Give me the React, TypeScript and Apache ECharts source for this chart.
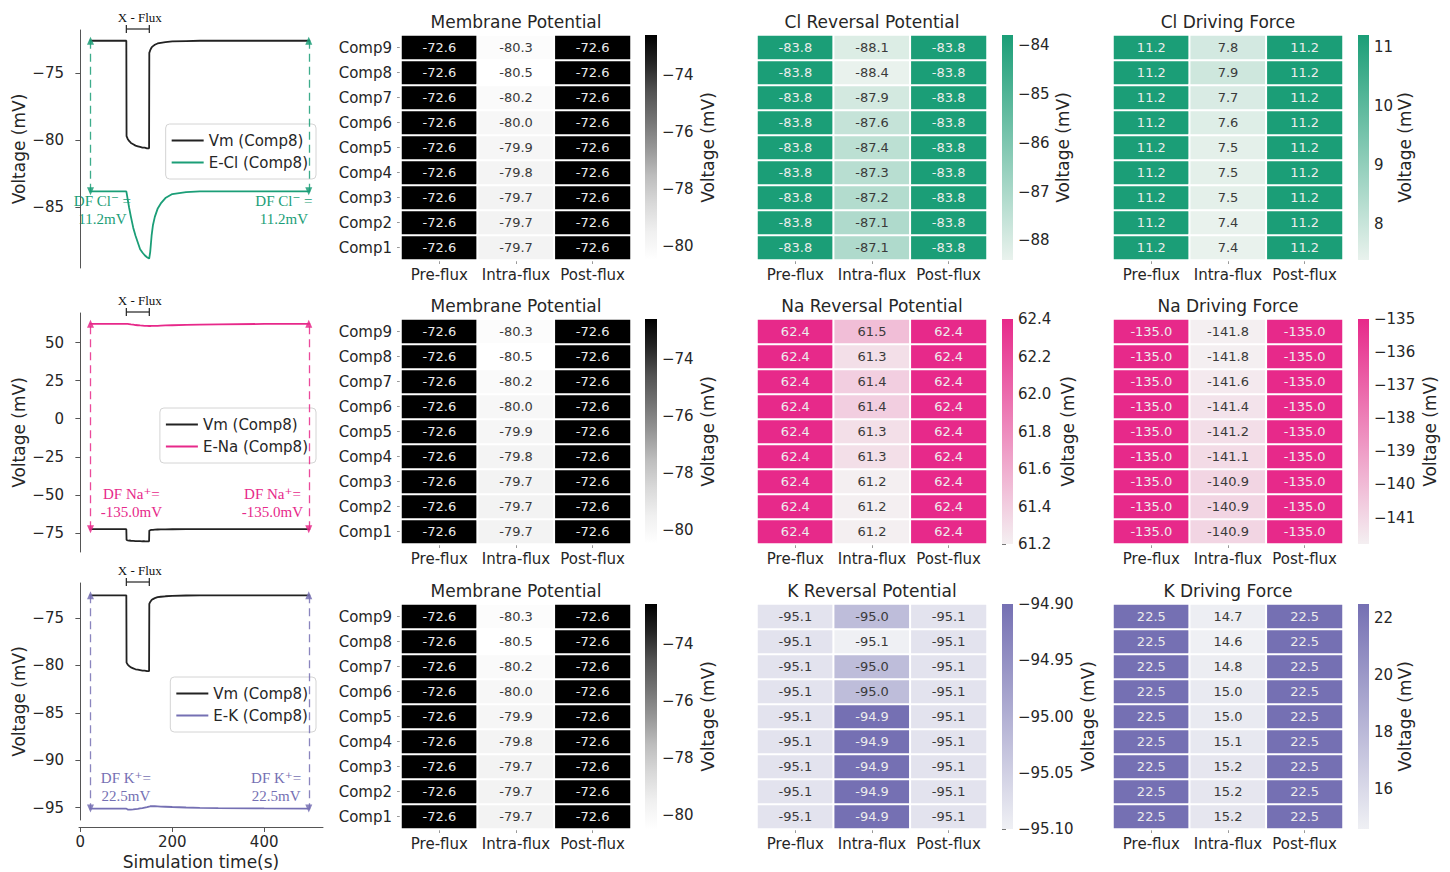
import React, { useEffect, useRef } from 'react';
import * as echarts from 'echarts';

// ---------- heatmap categories ----------
const COMPARTMENTS = ['Comp1', 'Comp2', 'Comp3', 'Comp4', 'Comp5', 'Comp6', 'Comp7', 'Comp8', 'Comp9'];
const PHASES = ['Pre-flux', 'Intra-flux', 'Post-flux'];

// ---------- per-compartment values (mV), ordered Comp1..Comp9 ----------
const VM_PRE = [-72.6, -72.6, -72.6, -72.6, -72.6, -72.6, -72.6, -72.6, -72.6];
const VM_INTRA = [-79.7, -79.7, -79.7, -79.8, -79.9, -80.0, -80.2, -80.5, -80.3];
const VM_POST = [-72.6, -72.6, -72.6, -72.6, -72.6, -72.6, -72.6, -72.6, -72.6];

const ECL_PRE = [-83.8, -83.8, -83.8, -83.8, -83.8, -83.8, -83.8, -83.8, -83.8];
const ECL_INTRA = [-87.1, -87.1, -87.2, -87.3, -87.4, -87.6, -87.9, -88.4, -88.1];
const ECL_POST = [-83.8, -83.8, -83.8, -83.8, -83.8, -83.8, -83.8, -83.8, -83.8];

const DFCL_PRE = [11.2, 11.2, 11.2, 11.2, 11.2, 11.2, 11.2, 11.2, 11.2];
const DFCL_INTRA = [7.4, 7.4, 7.5, 7.5, 7.5, 7.6, 7.7, 7.9, 7.8];
const DFCL_POST = [11.2, 11.2, 11.2, 11.2, 11.2, 11.2, 11.2, 11.2, 11.2];

const ENA_PRE = [62.4, 62.4, 62.4, 62.4, 62.4, 62.4, 62.4, 62.4, 62.4];
const ENA_INTRA = [61.2, 61.2, 61.2, 61.3, 61.3, 61.4, 61.4, 61.3, 61.5];
const ENA_POST = [62.4, 62.4, 62.4, 62.4, 62.4, 62.4, 62.4, 62.4, 62.4];

const DFNA_PRE = [-135.0, -135.0, -135.0, -135.0, -135.0, -135.0, -135.0, -135.0, -135.0];
const DFNA_INTRA = [-140.9, -140.9, -140.9, -141.1, -141.2, -141.4, -141.6, -141.8, -141.8];
const DFNA_POST = [-135.0, -135.0, -135.0, -135.0, -135.0, -135.0, -135.0, -135.0, -135.0];

const EK_PRE = [-95.08, -95.08, -95.08, -95.08, -95.08, -95.08, -95.08, -95.08, -95.08];
const EK_INTRA = [-94.9, -94.9, -94.9, -94.9, -94.9, -95.02, -95.02, -95.1, -95.02];
const EK_POST = [-95.08, -95.08, -95.08, -95.08, -95.08, -95.08, -95.08, -95.08, -95.08];

const DFK_PRE = [22.5, 22.5, 22.5, 22.5, 22.5, 22.5, 22.5, 22.5, 22.5];
const DFK_INTRA = [15.2, 15.2, 15.2, 15.1, 15.0, 15.0, 14.8, 14.6, 14.7];
const DFK_POST = [22.5, 22.5, 22.5, 22.5, 22.5, 22.5, 22.5, 22.5, 22.5];

// ---------- colour-bar ranges and ticks ----------
const VM_RANGE = [-80.5, -72.6];
const ECL_RANGE = [-88.4, -83.8];
const DFCL_RANGE = [7.4, 11.2];
const ENA_RANGE = [61.2, 62.4];
const DFNA_RANGE = [-141.8, -135.0];
const EK_RANGE = [-95.1, -94.9];
const DFK_RANGE = [14.6, 22.5];

const VM_TICKS = [-80, -78, -76, -74];
const ECL_TICKS = [-88, -87, -86, -85, -84];
const DFCL_TICKS = [8, 9, 10, 11];
const ENA_TICKS = [61.2, 61.4, 61.6, 61.8, 62.0, 62.2, 62.4];
const DFNA_TICKS = [-141, -140, -139, -138, -137, -136, -135];
const EK_TICKS = [-95.1, -95.05, -95.0, -94.95, -94.9];
const DFK_TICKS = [16, 18, 20, 22];

// ---------- Comp8 time courses ----------
const TIME = [20, 100, 100.5, 103, 106, 110, 115, 120, 125, 130, 135, 140, 145, 149.5, 150, 152, 155, 158, 162, 168, 175, 185, 200, 230, 260, 300, 400, 500];
const VM_TRACE = [-72.6, -72.6, -79.7, -79.9, -80.05, -80.2, -80.3, -80.4, -80.45, -80.5, -80.55, -80.55, -80.6, -80.6, -73.5, -73.3, -73.1, -73.0, -72.9, -72.8, -72.75, -72.7, -72.65, -72.62, -72.6, -72.6, -72.6, -72.6];
const ECL_TRACE = [-83.8, -83.8, -83.9, -84.4, -85.0, -85.7, -86.5, -87.1, -87.6, -88.1, -88.35, -88.55, -88.7, -88.8, -88.75, -88.3, -87.1, -86.3, -85.7, -85.1, -84.7, -84.3, -84.0, -83.85, -83.8, -83.8, -83.8, -83.8];
const ENA_TRACE = [62.4, 62.4, 62.4, 62.3, 62.2, 62.0, 61.8, 61.6, 61.45, 61.3, 61.2, 61.1, 61.0, 60.95, 60.95, 60.95, 61.0, 61.0, 61.05, 61.1, 61.2, 61.3, 61.45, 61.7, 61.9, 62.05, 62.3, 62.4];
const EK_TRACE = [-95.1, -95.1, -95.15, -95.2, -95.2, -95.2, -95.18, -95.15, -95.12, -95.08, -95.05, -95.0, -94.95, -94.9, -94.88, -94.85, -94.85, -94.85, -94.85, -94.86, -94.88, -94.9, -94.93, -94.98, -95.02, -95.05, -95.08, -95.1];

const FLUX_WINDOW = [100, 150];
const ARROW_TIMES = [22, 497];
const TIME_TICKS = [0, 200, 400];
const CL_AXIS_TICKS = [-85, -80, -75];
const NA_AXIS_TICKS = [-75, -50, -25, 0, 25, 50];
const K_AXIS_TICKS = [-95, -90, -85, -80, -75];

// ---------- styling ----------
const FONT = "'DejaVu Sans', sans-serif";
const SERIF = "'Liberation Serif', 'DejaVu Serif', 'Times New Roman', serif";
const INK = '#262626';
const SPINE = '#555555';
const GREYS = ['#ffffff', '#f0f0f0', '#d9d9d9', '#bdbdbd', '#969696', '#737373', '#525252', '#252525', '#000000'];
const GREENS = ['#e9f2ed', '#1b9e77'];
const PINKS = ['#f4eff1', '#e7298a'];
const PURPLES = ['#eff0f4', '#7570b3'];
const CL_COLOR = '#1b9e77';
const NA_COLOR = '#e7298a';
const K_COLOR = '#7570b3';
const VM_COLOR = '#222222';

const fmt = (v: number, d: number) => v.toFixed(d).replace('-', '\u2212');

// line panels (left column)
const LINE_ROWS = [
  {
    top: 30, height: 238, min: -89.5, max: -71.8, ticks: CL_AXIS_TICKS,
    eName: 'E-Cl (Comp8)', eTrace: ECL_TRACE, color: CL_COLOR, legendTop: 124,
    dfHead: 'DF Cl\u207B =', df: DFCL_PRE[7], dfLeft: [48, -85.2], dfRight: [443, -85.2],
  },
  {
    top: 313, height: 239, min: -87.6, max: 69.5, ticks: NA_AXIS_TICKS,
    eName: 'E-Na (Comp8)', eTrace: ENA_TRACE, color: NA_COLOR, legendTop: 408,
    dfHead: 'DF Na\u207A=', df: DFNA_PRE[7], dfLeft: [111, -55.1], dfRight: [418, -55.1],
  },
  {
    top: 583, height: 237, min: -96.3, max: -71.3, ticks: K_AXIS_TICKS,
    eName: 'E-K (Comp8)', eTrace: EK_TRACE, color: K_COLOR, legendTop: 677,
    dfHead: 'DF K\u207A=', df: DFK_PRE[7], dfLeft: [99, -92.8], dfRight: [426, -92.8],
  },
];

// heatmap panels
const COL_X = [401, 757, 1113];
const CB_X = [645, 1002, 1358];
const CB_W = [12, 11, 11];
const ROW_Y = [35, 319, 604];
const CELL_W = 230;
const CELL_H = 225;

const HEAT_PANELS = [
  { row: 0, col: 0, title: 'Membrane Potential', vals: [VM_PRE, VM_INTRA, VM_POST], range: VM_RANGE, ticks: VM_TICKS, dec: 0, colors: GREYS, gap: 42 },
  { row: 0, col: 1, title: 'Cl Reversal Potential', vals: [ECL_PRE, ECL_INTRA, ECL_POST], range: ECL_RANGE, ticks: ECL_TICKS, dec: 0, colors: GREENS, gap: 41 },
  { row: 0, col: 2, title: 'Cl Driving Force', vals: [DFCL_PRE, DFCL_INTRA, DFCL_POST], range: DFCL_RANGE, ticks: DFCL_TICKS, dec: 0, colors: GREENS, gap: 27 },
  { row: 1, col: 0, title: 'Membrane Potential', vals: [VM_PRE, VM_INTRA, VM_POST], range: VM_RANGE, ticks: VM_TICKS, dec: 0, colors: GREYS, gap: 42 },
  { row: 1, col: 1, title: 'Na Reversal Potential', vals: [ENA_PRE, ENA_INTRA, ENA_POST], range: ENA_RANGE, ticks: ENA_TICKS, dec: 1, colors: PINKS, gap: 46 },
  { row: 1, col: 2, title: 'Na Driving Force', vals: [DFNA_PRE, DFNA_INTRA, DFNA_POST], range: DFNA_RANGE, ticks: DFNA_TICKS, dec: 0, colors: PINKS, gap: 52 },
  { row: 2, col: 0, title: 'Membrane Potential', vals: [VM_PRE, VM_INTRA, VM_POST], range: VM_RANGE, ticks: VM_TICKS, dec: 0, colors: GREYS, gap: 42 },
  { row: 2, col: 1, title: 'K Reversal Potential', vals: [EK_PRE, EK_INTRA, EK_POST], range: EK_RANGE, ticks: EK_TICKS, dec: 2, colors: PURPLES, gap: 66 },
  { row: 2, col: 2, title: 'K Driving Force', vals: [DFK_PRE, DFK_INTRA, DFK_POST], range: DFK_RANGE, ticks: DFK_TICKS, dec: 0, colors: PURPLES, gap: 27 },
];

function buildOption() {
  const grid: any[] = [];
  const xAxis: any[] = [];
  const yAxis: any[] = [];
  const series: any[] = [];
  const visualMap: any[] = [];
  const legend: any[] = [];

  LINE_ROWS.forEach((row, r) => {
    grid.push({ left: 79, top: row.top, width: 244, height: row.height });
    xAxis.push({
      type: 'value', gridIndex: r, min: -3, max: 528, show: r === 2, offset: 7,
      axisLine: { show: true, lineStyle: { color: SPINE, width: 1 } },
      axisTick: { show: true, length: 5, customValues: TIME_TICKS, lineStyle: { color: SPINE } },
      axisLabel: { customValues: TIME_TICKS, fontSize: 15, color: INK, margin: 7, fontFamily: FONT },
      splitLine: { show: false },
      name: r === 2 ? 'Simulation time(s)' : '', nameLocation: 'middle', nameGap: 26,
      nameTextStyle: { fontSize: 17, color: INK, fontFamily: FONT },
    });
    yAxis.push({
      type: 'value', gridIndex: r, min: row.min, max: row.max, offset: 6,
      axisLine: { show: true, lineStyle: { color: SPINE, width: 1 } },
      axisTick: { show: true, length: 5, customValues: row.ticks, lineStyle: { color: SPINE } },
      axisLabel: { customValues: row.ticks, formatter: (v: number) => fmt(v, 0), fontSize: 15, color: INK, margin: 9, fontFamily: FONT },
      splitLine: { show: false },
      name: 'Voltage (mV)', nameLocation: 'middle', nameRotate: 90, nameGap: 46,
      nameTextStyle: { fontSize: 17, color: INK, fontFamily: FONT },
    });
    series.push({
      name: 'Vm (Comp8)', type: 'line', xAxisIndex: r, yAxisIndex: r, symbol: 'none', showSymbol: false,
      data: TIME.map((t, i) => [t, VM_TRACE[i]]),
      lineStyle: { color: VM_COLOR, width: 1.8 }, itemStyle: { color: VM_COLOR }, z: 3,
    });
    const last = TIME.length - 1;
    series.push({
      name: row.eName, type: 'line', xAxisIndex: r, yAxisIndex: r, symbol: 'none', showSymbol: false,
      data: TIME.map((t, i) => [t, row.eTrace[i]]),
      lineStyle: { color: row.color, width: 1.8 }, itemStyle: { color: row.color }, z: 3,
      markLine: {
        silent: true, symbol: ['triangle', 'triangle'], symbolSize: [7, 8],
        label: { show: false },
        lineStyle: { color: row.color, width: 1.3, type: [8, 5], opacity: 0.85 },
        itemStyle: { color: row.color },
        data: [
          [{ coord: [ARROW_TIMES[0], VM_TRACE[0]] }, { coord: [ARROW_TIMES[0], row.eTrace[0]] }],
          [{ coord: [ARROW_TIMES[1], VM_TRACE[last]] }, { coord: [ARROW_TIMES[1], row.eTrace[last]] }],
        ],
      },
    });
    legend.push({
      data: [
        { name: 'Vm (Comp8)', icon: 'rect', itemStyle: { color: VM_COLOR } },
        { name: row.eName, icon: 'rect', itemStyle: { color: row.color } },
      ],
      orient: 'vertical', right: 1134, top: row.legendTop,
      itemWidth: 32, itemHeight: 2, itemGap: 5, selectedMode: false,
      textStyle: { fontSize: 15, color: INK, fontFamily: FONT, lineHeight: 17 },
      borderColor: '#d4d4d4', borderWidth: 1, borderRadius: 4, padding: [8, 8, 8, 6],
      backgroundColor: 'rgba(255,255,255,0.85)',
    });
  });

  HEAT_PANELS.forEach((p, k) => {
    const gi = 3 + 2 * k;
    const ci = gi + 1;
    const [lo, hi] = p.range;
    grid.push({ left: COL_X[p.col], top: ROW_Y[p.row], width: CELL_W, height: CELL_H });
    grid.push({ left: CB_X[p.col], top: ROW_Y[p.row], width: CB_W[p.col], height: CELL_H });

    xAxis.push({
      type: 'category', gridIndex: gi, data: PHASES, position: 'bottom',
      axisLine: { show: false },
      axisTick: { show: true, alignWithLabel: true, interval: 0, length: 4, lineStyle: { color: '#999' } },
      axisLabel: { interval: 0, fontSize: 15, color: INK, margin: 7, fontFamily: FONT, hideOverlap: false },
      splitLine: { show: false },
    });
    yAxis.push({
      type: 'category', gridIndex: gi, data: COMPARTMENTS, show: p.col === 0,
      axisLine: { show: false },
      axisTick: { show: true, alignWithLabel: true, interval: 0, length: 4, lineStyle: { color: '#999' } },
      axisLabel: { interval: 0, fontSize: 15, color: INK, margin: 9, fontFamily: FONT },
      splitLine: { show: false },
    });
    xAxis.push({ type: 'value', gridIndex: ci, min: 0, max: 1, show: false });
    yAxis.push({
      type: 'value', gridIndex: ci, position: 'right', min: lo, max: hi,
      axisLine: { show: false },
      axisTick: { show: true, length: 4, customValues: p.ticks, lineStyle: { color: '#777' } },
      axisLabel: { customValues: p.ticks, formatter: (v: number) => fmt(v, p.dec), fontSize: 15, color: INK, margin: 5, fontFamily: FONT },
      splitLine: { show: false },
      name: 'Voltage (mV)', nameLocation: 'middle', nameRotate: 90, nameGap: p.gap,
      nameTextStyle: { fontSize: 17, color: INK, fontFamily: FONT },
    });

    const data: any[] = [];
    p.vals.forEach((col, i) => {
      col.forEach((v, j) => {
        const t = (v - lo) / (hi - lo);
        data.push({ value: [i, j, v], label: { color: t > 0.55 ? '#ececec' : '#3a3a3a' } });
      });
    });
    const hmIndex = series.length;
    series.push({
      type: 'heatmap', xAxisIndex: gi, yAxisIndex: gi, data,
      label: { show: true, fontSize: 13, fontFamily: FONT, formatter: (prm: any) => prm.value[2].toFixed(1) },
      itemStyle: { borderColor: '#ffffff', borderWidth: 2 },
      emphasis: { disabled: true },
    });
    visualMap.push({
      type: 'continuous', show: false, seriesIndex: hmIndex, dimension: 2,
      min: lo, max: hi, inRange: { color: p.colors },
    });

    const n = p.colors.length;
    const stops = p.colors.map((c, i) => ({ offset: 1 - i / (n - 1), color: c })).reverse();
    series.push({
      type: 'custom', xAxisIndex: ci, yAxisIndex: ci, silent: true,
      data: [[0.5, lo, hi]], encode: { x: 0, y: [1, 2] },
      renderItem: (_params: any, api: any) => {
        const a = api.coord([0, api.value(2)]);
        const b = api.coord([1, api.value(1)]);
        return {
          type: 'rect',
          shape: { x: a[0], y: a[1], width: b[0] - a[0], height: b[1] - a[1] },
          style: { fill: new echarts.graphic.LinearGradient(0, 0, 0, 1, stops) },
        };
      },
    });
  });

  return {
    animation: false,
    backgroundColor: '#ffffff',
    textStyle: { fontFamily: FONT },
    grid, xAxis, yAxis, series, visualMap, legend,
  };
}

function buildGraphic(chart: any) {
  const g: any[] = [];
  HEAT_PANELS.forEach((p) => {
    g.push({
      type: 'text', silent: true, x: COL_X[p.col] + CELL_W / 2, y: ROW_Y[p.row] - 13,
      style: { text: p.title, fontSize: 17, fontFamily: FONT, fill: INK, align: 'center', verticalAlign: 'middle' },
    });
  });
  LINE_ROWS.forEach((row, r) => {
    const finder = { xAxisIndex: r, yAxisIndex: r };
    const a = chart.convertToPixel(finder, [FLUX_WINDOW[0], row.max]);
    const b = chart.convertToPixel(finder, [FLUX_WINDOW[1], row.max]);
    const y = a[1] - 1;
    const stroke = { stroke: '#222', lineWidth: 1.2 };
    g.push({ type: 'line', silent: true, shape: { x1: a[0], y1: y, x2: b[0], y2: y }, style: stroke });
    g.push({ type: 'line', silent: true, shape: { x1: a[0], y1: y - 4, x2: a[0], y2: y + 4 }, style: stroke });
    g.push({ type: 'line', silent: true, shape: { x1: b[0], y1: y - 4, x2: b[0], y2: y + 4 }, style: stroke });
    g.push({
      type: 'text', silent: true, x: (a[0] + b[0]) / 2 + 2, y: y - 12,
      style: { text: 'X - Flux', fontSize: 13, fontFamily: SERIF, fill: '#111', align: 'center', verticalAlign: 'middle' },
    });
    const label = `${row.dfHead}\n${row.df.toFixed(1)}mV`;
    [row.dfLeft, row.dfRight].forEach((pos) => {
      const pt = chart.convertToPixel(finder, pos);
      g.push({
        type: 'text', silent: true, x: pt[0], y: pt[1],
        style: { text: label, fontSize: 15, lineHeight: 18, fontFamily: SERIF, fill: row.color, align: 'center', verticalAlign: 'middle' },
      });
    });
  });
  return g;
}

export default function App() {
  const ref = useRef<HTMLDivElement>(null);
  useEffect(() => {
    document.body.style.margin = '0';
    if (!ref.current) return;
    const chart = echarts.init(ref.current, undefined, { renderer: 'svg' });
    chart.setOption(buildOption() as any);
    chart.setOption({ graphic: buildGraphic(chart) } as any);
    return () => chart.dispose();
  }, []);
  return <div ref={ref} style={{ width: 1450, height: 872, background: '#fff' }} />;
}
